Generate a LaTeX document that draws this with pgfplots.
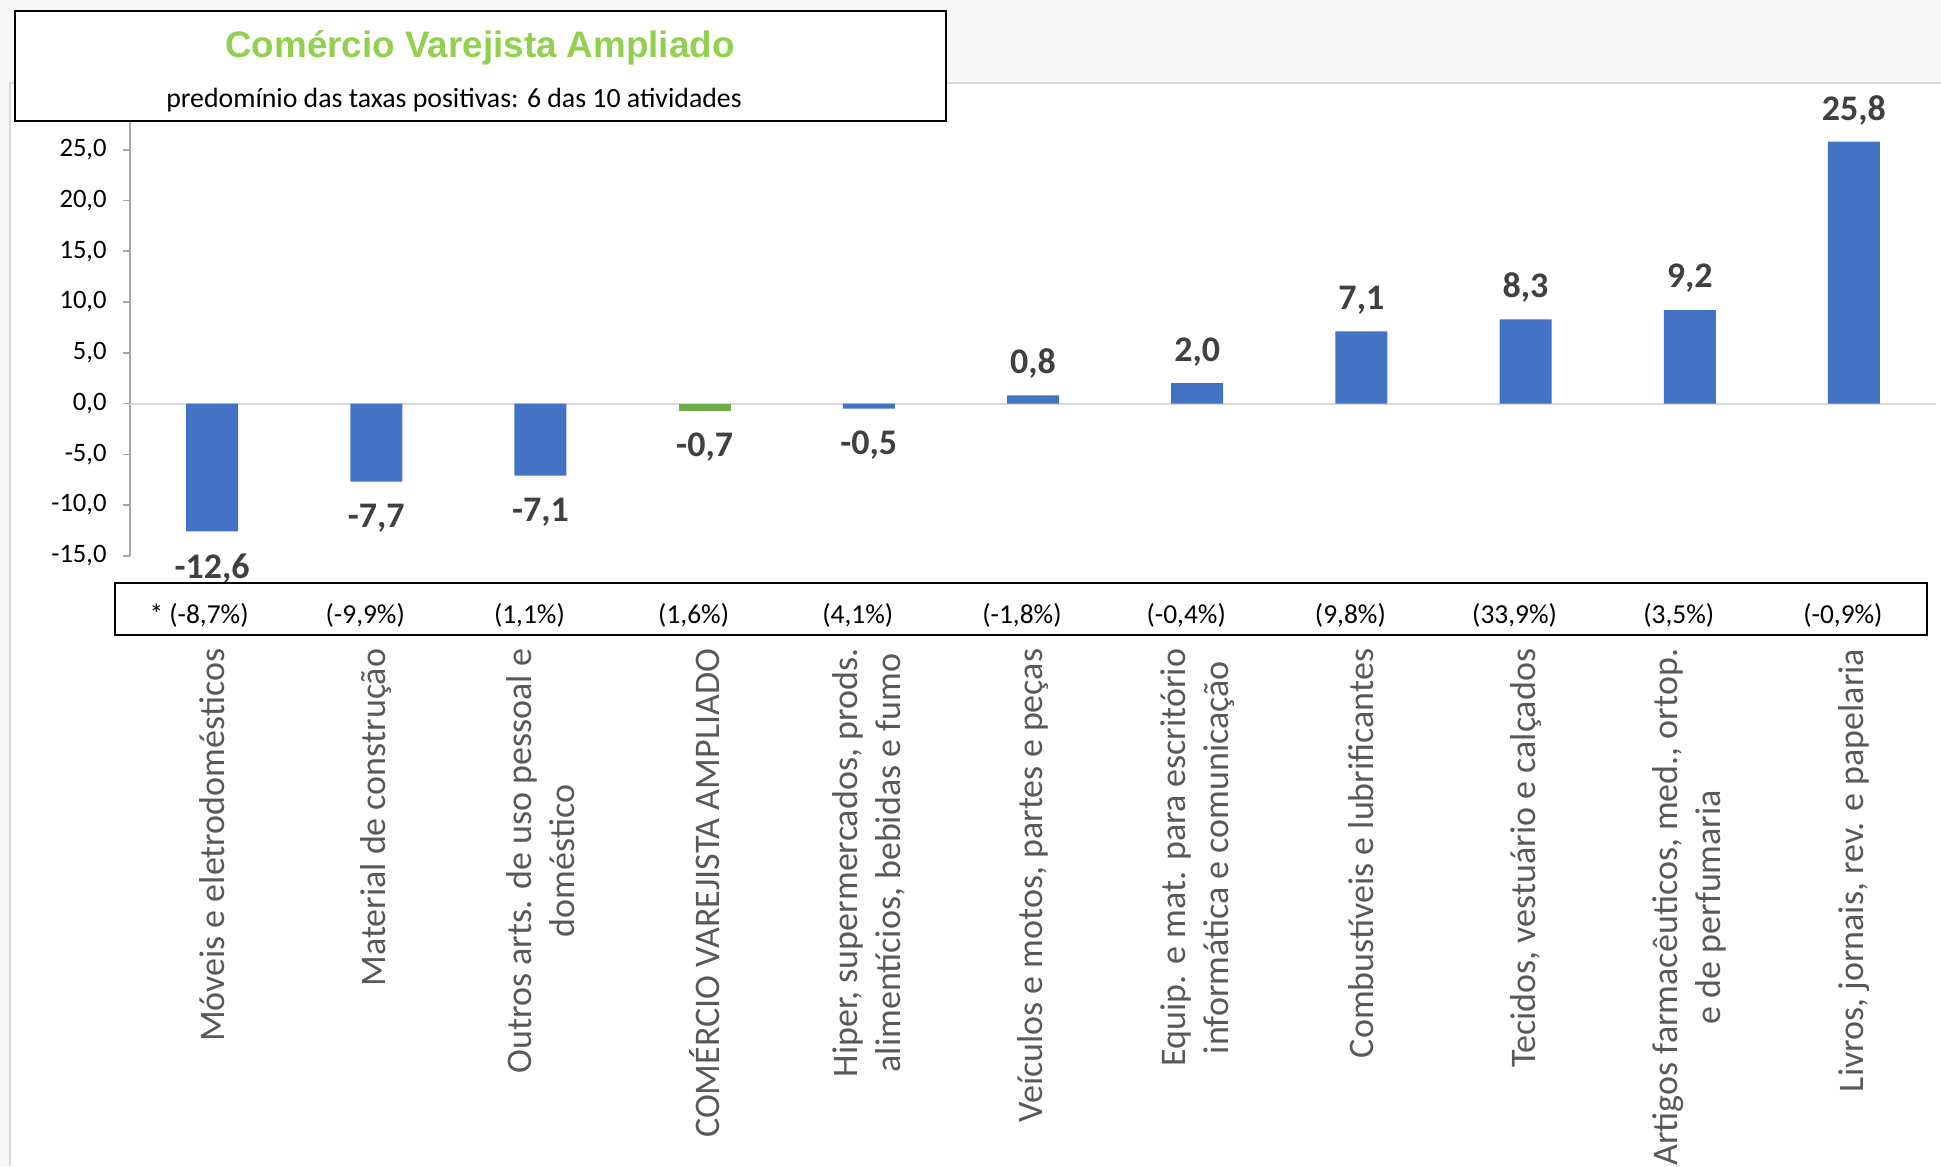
\documentclass[border=0pt]{standalone}
\usepackage{pgfplots}
\pgfplotsset{compat=1.18}
\usepackage{pgfplotstable}
\usepackage{fontspec}
\setmainfont{Carlito}
\newfontfamily\titlefont{Liberation Sans}
\definecolor{barblue}{HTML}{4472C4}
\definecolor{bargreen}{HTML}{70AD47}
\definecolor{titlegreen}{HTML}{92D050}
\definecolor{lbl}{HTML}{404040}
\definecolor{cat}{HTML}{595959}
\definecolor{axisgray}{HTML}{A6A6A6}
\definecolor{zerogray}{HTML}{D9D9D9}
\definecolor{bg}{HTML}{F7F7F7}

\pgfplotstableread{
x y lab
0 -12.6 -12,6
1 -7.7 -7,7
2 -7.1 -7,1
4 -0.5 -0,5
}\negdata
\pgfplotstableread{
x y lab
3 -0.7 -0,7
}\totdata
\pgfplotstableread{
x y lab
5 0.8 0,8
6 2.0 2,0
7 7.1 7,1
8 8.3 8,3
9 9.2 9,2
10 25.8 25,8
}\posdata

\begin{document}
\begin{tikzpicture}
\useasboundingbox (0,0) rectangle (970.5pt,-583pt);
\fill[bg] (0,0) rectangle (970.5pt,-583pt);
\fill[white] (5pt,-41.5pt) rectangle (970.5pt,-583pt);
\draw[zerogray, line width=0.6pt] (5pt,-583pt) -- (5pt,-41.5pt) -- (970.5pt,-41.5pt);
\begin{axis}[
  at={(65pt,-277.9pt)}, anchor=south west,
  scale only axis, width=903pt, height=228.4pt,
  xmin=-0.5, xmax=10.5, ymin=-15, ymax=30,
  ybar, bar width=26pt, bar shift=0pt,
  axis x line*=bottom, axis y line*=left,
  x axis line style={draw=none},
  y axis line style={draw=axisgray, line width=0.8pt},
  ytick={-15,-10,...,30},
  yticklabels={{-15,0},{-10,0},{-5,0},{0,0},{5,0},{10,0},{15,0},{20,0},{25,0},{30,0}},
  yticklabel style={font=\fontsize{13.3}{14}\selectfont, text=black, inner sep=0pt, anchor=east},
  yticklabel shift=8pt,
  ytick style={draw=axisgray, line width=0.8pt},
  ytick align=outside, major tick length=3.5pt,
  xtick={0,...,10},
  xticklabels={
    {Móveis e eletrodomésticos},
    {Material de construção},
    {Outros arts. de uso pessoal e\\doméstico},
    {COMÉRCIO VAREJISTA AMPLIADO},
    {Hiper, supermercados, prods.\\alimentícios, bebidas e fumo},
    {Veículos e motos, partes e peças},
    {Equip. e mat. para escritório\\informática e comunicação},
    {Combustíveis e lubrificantes},
    {Tecidos, vestuário e calçados},
    {Artigos farmacêuticos, med., ortop.\\e de perfumaria},
    {Livros, jornais, rev. e papelaria}},
  xtick style={draw=none},
  xticklabel style={rotate=90, anchor=east, align=center, font=\fontsize{18}{21.5}\selectfont, text=cat, inner sep=0pt},
  xticklabel shift=42.8pt,
  clip=false,
  point meta=explicit symbolic,
]
\draw[zerogray, line width=1pt] (axis cs:-0.5,0) -- (axis cs:10.5,0);
\addplot[fill=barblue, draw=none, nodes near coords,
  every node near coord/.append style={anchor=center, yshift=-18.4pt, font=\bfseries\fontsize{18}{20}\selectfont, text=lbl, inner sep=0pt}]
  table[x=x, y=y, meta=lab] {\negdata};
\addplot[fill=bargreen, draw=none, nodes near coords,
  every node near coord/.append style={anchor=center, yshift=-18.4pt, font=\bfseries\fontsize{18}{20}\selectfont, text=lbl, inner sep=0pt}]
  table[x=x, y=y, meta=lab] {\totdata};
\addplot[fill=barblue, draw=none, nodes near coords,
  every node near coord/.append style={anchor=center, yshift=15.8pt, font=\bfseries\fontsize{18}{20}\selectfont, text=lbl, inner sep=0pt}]
  table[x=x, y=y, meta=lab] {\posdata};
\tikzset{paren/.style={font=\fontsize{13.7}{15}\selectfont, text=black, inner sep=0pt, yshift=-29.9pt, xshift=-5.5pt}}
\node[paren, xshift=-1pt] at (axis cs:0,-15) {* (-8,7\%)};
\node[paren] at (axis cs:1,-15) {(-9,9\%)};
\node[paren] at (axis cs:2,-15) {(1,1\%)};
\node[paren] at (axis cs:3,-15) {(1,6\%)};
\node[paren] at (axis cs:4,-15) {(4,1\%)};
\node[paren] at (axis cs:5,-15) {(-1,8\%)};
\node[paren] at (axis cs:6,-15) {(-0,4\%)};
\node[paren] at (axis cs:7,-15) {(9,8\%)};
\node[paren] at (axis cs:8,-15) {(33,9\%)};
\node[paren] at (axis cs:9,-15) {(3,5\%)};
\node[paren] at (axis cs:10,-15) {(-0,9\%)};
\end{axis}
\draw[line width=1.2pt] (57.5pt,-291.5pt) rectangle (963.5pt,-317.5pt);
\draw[line width=1pt, fill=white] (7.5pt,-5.5pt) rectangle (473pt,-60.5pt);
\node[font=\titlefont\bfseries\fontsize{18.4}{20}\selectfont, text=titlegreen] at (240pt,-24pt) {Comércio Varejista Ampliado};
\node[font=\fontsize{13.9}{16}\selectfont, text=black] at (227pt,-50pt) {predomínio das taxas positivas: 6 das 10 atividades};
\end{tikzpicture}
\end{document}
